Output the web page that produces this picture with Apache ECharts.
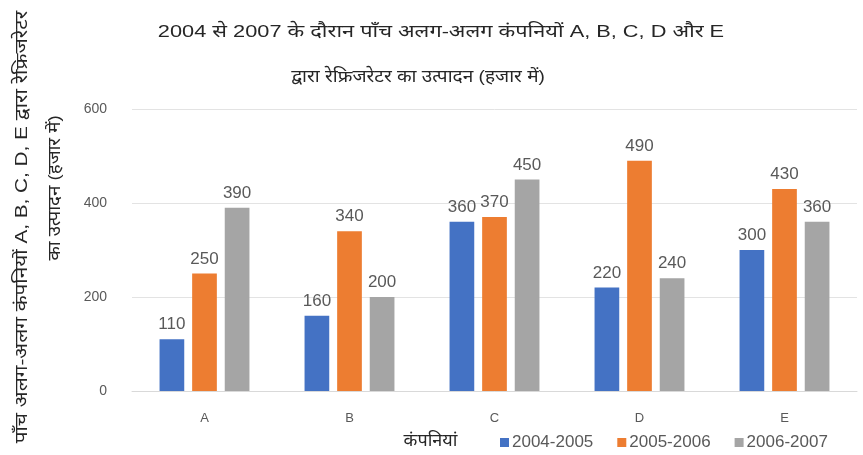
<!DOCTYPE html>
<html><head><meta charset="utf-8">
<script src="https://cdn.jsdelivr.net/npm/echarts@6/dist/echarts.min.js"></script>
<style>html,body{margin:0;padding:0;background:#fff}#c{width:863px;height:455px}</style>
</head><body><div id="c"></div>
<script>
const categories = ['A', 'B', 'C', 'D', 'E'];
const seriesNames = ['2004-2005', '2005-2006', '2006-2007'];
const s2004 = [110, 160, 360, 220, 300];
const s2005 = [250, 340, 370, 490, 430];
const s2006 = [390, 200, 450, 240, 360];
const yTicks = [0, 200, 400, 600];
const colors = ['#4472C4', '#ED7D31', '#A5A5A5'];
const font = '"Liberation Sans", Arial, "Noto Sans", sans-serif';
const titleLine1 = '2004 से 2007 के दौरान पाँच अलग-अलग कंपनियों A, B, C, D और E';
const titleLine2 = 'द्वारा रेफ्रिजरेटर का उत्पादन (हजार में)';
const yTitle1 = 'पाँच अलग-अलग कंपनियों A, B, C, D, E द्वारा रेफ्रिजरेटर';
const yTitle2 = 'का उत्पादन (हजार में)';

const chart = echarts.init(document.getElementById('c'));
const mk = (name, data, color) => ({
  name, type: 'bar', data,
  barGap: '32%', barCategoryGap: '38%',
  itemStyle: { color },
  label: { show: true, position: 'top', distance: 6, color: '#595959', fontSize: 17, fontFamily: font }
});
const txt = (text, x, y, rot, sx) => ({
  type: 'text', x, y, rotation: rot, scaleX: sx,
  style: { text, fontSize: 17, fill: '#262626', align: 'center', verticalAlign: 'middle', fontFamily: font }
});
chart.setOption({
  animation: false,
  textStyle: { fontFamily: font },
  grid: { left: 132, right: 6, top: 109, bottom: 58 },
  legend: {
    data: seriesNames, left: 495, top: 429, itemWidth: 9, itemHeight: 9, itemGap: 24,
    icon: 'rect', textStyle: { fontSize: 17, color: '#595959', fontFamily: font, padding: [0, 0, 0, -2] }
  },
  xAxis: {
    type: 'category', data: categories,
    axisLine: { lineStyle: { color: '#d9d9d9' } }, axisTick: { show: false },
    axisLabel: { color: '#595959', fontSize: 13, margin: 21 },
    name: 'कंपनियां', nameLocation: 'middle', nameGap: 41,
    nameTextStyle: { color: '#262626', fontSize: 18, padding: [0, 0, 0, -128] }
  },
  yAxis: {
    type: 'value', min: 0, max: 600, interval: 200,
    axisLine: { show: false }, axisTick: { show: false },
    axisLabel: { color: '#595959', fontSize: 14, margin: 25 },
    splitLine: { lineStyle: { color: '#e3e3e3' } }
  },
  graphic: [
    txt(titleLine1, 441, 32, 0, 1.28),
    txt(titleLine2, 418, 77, 0, 1.12),
    txt(yTitle1, 22, 227, Math.PI / 2, 1.22),
    txt(yTitle2, 55, 188, Math.PI / 2, 1.1)
  ],
  series: [mk(seriesNames[0], s2004, colors[0]), mk(seriesNames[1], s2005, colors[1]), mk(seriesNames[2], s2006, colors[2])]
});
</script></body></html>
